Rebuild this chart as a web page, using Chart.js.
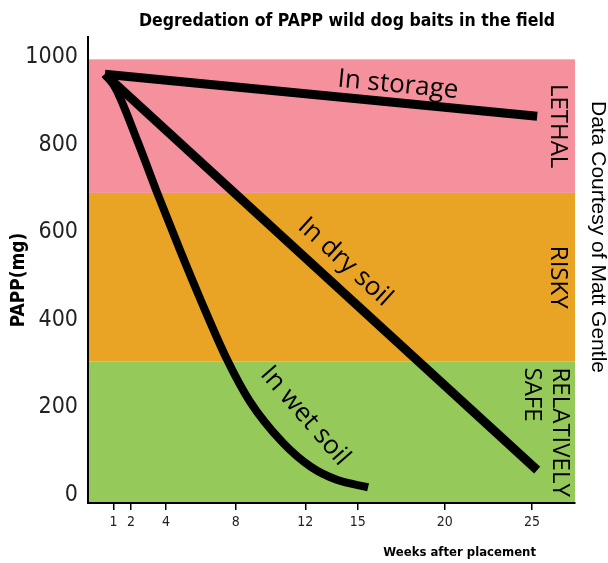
<!DOCTYPE html>
<html lang="en">
<head>
<meta charset="UTF-8">
<title>Degredation of PAPP wild dog baits in the field</title>
<script src="https://cdn.jsdelivr.net/npm/chart.js"></script>
<style>
  body { margin: 0; background: #fff; }
  #chart { display: block; }
</style>
</head>
<body>
<canvas id="chart" width="608" height="563"></canvas>
<script>
// weeks after placement vs PAPP left in the bait (mg)
const storageWeeks = [0.5, 25.3];
const storageMg    = [961, 865];
const drySoilWeeks = [0.5, 25.3];
const drySoilMg    = [961, 57];
const wetSoilWeeks = [0.5, 1.1, 2.4, 3.5, 4.8, 6, 7.5, 8.8, 10.7, 12.3, 13.8, 15.6];
const wetSoilMg    = [961, 930, 805, 690, 560, 445, 310, 215, 120, 65, 35, 18];

const xTicks = [1, 2, 4, 8, 12, 15, 20, 25];
const yTicks = [0, 200, 400, 600, 800, 1000];

// risk bands (mg)
const bandLabels = [['RELATIVELY', 'SAFE'], ['RISKY'], ['LETHAL']];
const bandFrom   = [-18, 305, 690];
const bandTo     = [305, 690, 995];
const bandColors = ['#95ca5a', '#e9a425', '#f4919d'];

const NARROW = "'Liberation Sans Narrow', 'DejaVu Sans Condensed', sans-serif";
const COND   = "'DejaVu Sans Condensed', 'Liberation Sans Narrow', sans-serif";
const HUMAN  = "'Open Sans', 'Noto Sans', sans-serif";

function pts(xs, ys) {
  return xs.map((x, i) => ({ x: x, y: ys[i] }));
}

function rotText(ctx, text, x, y, deg, font, align) {
  ctx.save();
  ctx.translate(x, y);
  ctx.rotate(deg * Math.PI / 180);
  ctx.font = font;
  ctx.textAlign = align || 'center';
  ctx.textBaseline = 'middle';
  ctx.fillStyle = '#000';
  ctx.fillText(text, 0, 0);
  ctx.restore();
}

const decor = {
  id: 'decor',
  beforeDraw(chart) {
    const { ctx, chartArea: a, scales: { y } } = chart;
    ctx.save();
    bandFrom.forEach((lo, i) => {
      const top = y.getPixelForValue(bandTo[i]);
      const bot = y.getPixelForValue(lo);
      ctx.fillStyle = bandColors[i];
      ctx.fillRect(a.left, top, a.right - a.left, bot - top);
    });
    ctx.restore();
  },
  afterDatasetsDraw(chart) {
    const { ctx, chartArea: a, scales: { y } } = chart;
    // band names, written downwards along the right edge
    bandLabels.forEach((lines, i) => {
      const top = y.getPixelForValue(bandTo[i]);
      const bot = y.getPixelForValue(bandFrom[i]);
      if (lines.length === 1) {
        rotText(ctx, lines[0], a.right - 17, (top + bot) / 2, 90, '24px ' + HUMAN);
      } else {
        lines.forEach((t, k) => {
          rotText(ctx, t, a.right - 15 - k * 28, top + 6, 90, '24px ' + HUMAN, 'left');
        });
      }
    });
    // curve names
    rotText(ctx, 'In storage', 398, 85, 5.5, '26px ' + HUMAN);
    rotText(ctx, 'In dry soil', 345, 262, 42.4, '26px ' + HUMAN);
    rotText(ctx, 'In wet soil', 305, 416, 49, '26px ' + HUMAN);
    // titles and credit
    rotText(ctx, 'Degredation of PAPP wild dog baits in the field', 347, 21, 0, 'bold 17.5px ' + COND);
    rotText(ctx, 'PAPP(mg)', 19, 280, -90, 'bold 19px ' + COND);
    rotText(ctx, 'Weeks after placement', 536, 553, 0, 'bold 13px ' + COND, 'right');
    rotText(ctx, 'Data Courtesy of Matt Gentle', a.right + 23, 237, 90, "21px 'Liberation Sans', Arial, sans-serif");
  }
};

const line = (xs, ys, width, smooth) => ({
  data: pts(xs, ys),
  borderColor: '#000',
  borderWidth: width,
  pointRadius: 0,
  fill: false,
  cubicInterpolationMode: smooth ? 'monotone' : 'default',
  borderCapStyle: 'butt'
});

new Chart(document.getElementById('chart'), {
  type: 'line',
  data: {
    datasets: [
      line(storageWeeks, storageMg, 9, false),
      line(drySoilWeeks, drySoilMg, 9, false),
      line(wetSoilWeeks, wetSoilMg, 8, true)
    ]
  },
  options: {
    responsive: false,
    animation: false,
    layout: { padding: { top: 37, right: 33, left: 0, bottom: 0 } },
    plugins: { legend: { display: false }, tooltip: { enabled: false } },
    scales: {
      x: {
        type: 'linear',
        position: 'bottom',
        min: -0.47,
        max: 27.47,
        afterBuildTicks: s => { s.ticks = xTicks.map(v => ({ value: v })); },
        afterFit: s => { s.height = 60; },
        grid: { drawOnChartArea: false, drawTicks: true, tickLength: 7, color: '#000', lineWidth: 1.5 },
        border: { display: true, color: '#000', width: 2 },
        ticks: { autoSkip: false, maxRotation: 0, padding: 4, color: '#222', font: { family: NARROW, size: 14 },
                 callback: v => String(v) }
      },
      y: {
        type: 'linear',
        min: -18,
        max: 1046,
        afterBuildTicks: s => { s.ticks = yTicks.map(v => ({ value: v })); },
        afterFit: s => { s.width = 88; },
        grid: { drawOnChartArea: false, drawTicks: false },
        border: { display: true, color: '#000', width: 2 },
        ticks: { padding: 10, color: '#222', font: { family: NARROW, size: 23 },
                 callback: v => String(v) }
      }
    }
  },
  plugins: [decor]
});
</script>
</body>
</html>
